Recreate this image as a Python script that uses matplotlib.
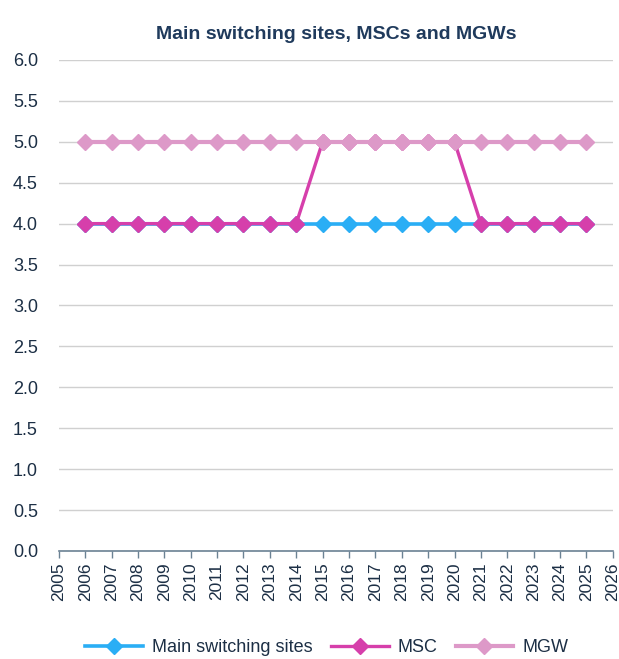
import matplotlib
matplotlib.use("Agg")
import matplotlib.pyplot as plt

years = list(range(2006, 2026))
main_sites = [4] * 20
msc = [4] * 9 + [5] * 6 + [4] * 5
mgw = [5] * 20
y_ticks = [0.0, 0.5, 1.0, 1.5, 2.0, 2.5, 3.0, 3.5, 4.0, 4.5, 5.0, 5.5, 6.0]
x_ticks = list(range(2005, 2027))

plt.rcParams['font.family'] = ['Liberation Sans', 'DejaVu Sans']
text_color = '#1c2f45'

fig = plt.figure(figsize=(6.19, 6.59), dpi=100)
ax = fig.add_axes([0.095, 0.164, 0.895, 0.745])

ax.plot(years, main_sites, color='#2aaef5', lw=2.6, marker='D', ms=8,
        label='Main switching sites', zorder=3)
ax.plot(years, msc, color='#d63fab', lw=2.4, marker='D', ms=8,
        label='MSC', zorder=4)
ax.plot(years, mgw, color='#dd99c8', lw=3.0, marker='D', ms=8,
        label='MGW', zorder=5)

ax.set_xlim(2005, 2026)
ax.set_ylim(0, 6)
ax.set_yticks(y_ticks)
ax.set_yticklabels([f'{v:.1f}' for v in y_ticks], fontsize=13, color=text_color)
ax.set_xticks(x_ticks)
ax.set_xticklabels([str(v) for v in x_ticks], rotation=90, fontsize=12.5,
                   color=text_color)

ax.grid(axis='y', color='#d0d0d0', lw=1)
ax.set_axisbelow(True)
for s in ['top', 'right', 'left']:
    ax.spines[s].set_visible(False)
ax.spines['bottom'].set_color('#6b8294')
ax.spines['bottom'].set_linewidth(1.2)
ax.tick_params(axis='y', length=0, pad=15)
ax.tick_params(axis='x', length=5, color='#6b8294', width=1, pad=3)

ax.set_title('Main switching sites, MSCs and MGWs', fontsize=14,
             fontweight='bold', color='#1f3a5c', pad=15)

fig.legend(loc='lower center', ncol=3, frameon=False, fontsize=13,
           bbox_to_anchor=(0.528, -0.02), handlelength=3.2, columnspacing=1.0,
           handletextpad=0.5, labelcolor=text_color)

fig.savefig('out.png', dpi=100)
